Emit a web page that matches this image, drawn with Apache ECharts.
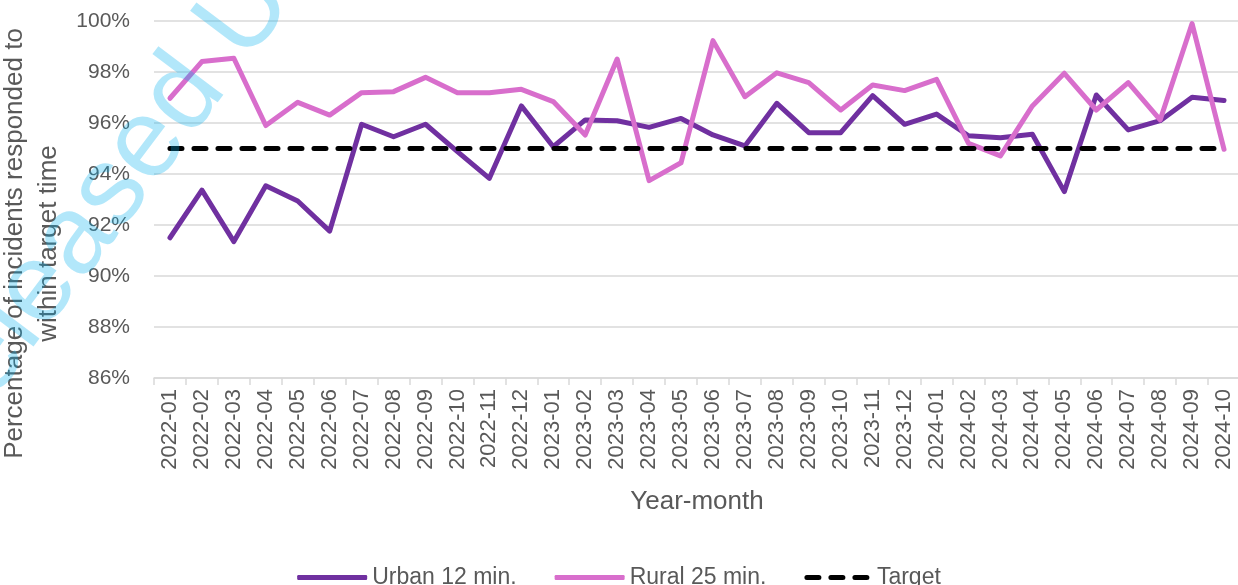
<!DOCTYPE html>
<html>
<head>
<meta charset="utf-8">
<script src="https://cdn.jsdelivr.net/npm/echarts@6/dist/echarts.min.js"></script>
<style>html,body{margin:0;padding:0;background:#fff}#c{width:1238px;height:585px}</style>
</head>
<body>
<div id="c"></div>
<script>
const categories = ['2022-01','2022-02','2022-03','2022-04','2022-05','2022-06','2022-07','2022-08','2022-09','2022-10','2022-11','2022-12',
  '2023-01','2023-02','2023-03','2023-04','2023-05','2023-06','2023-07','2023-08','2023-09','2023-10','2023-11','2023-12',
  '2024-01','2024-02','2024-03','2024-04','2024-05','2024-06','2024-07','2024-08','2024-09','2024-10'];
const urban = [91.50,93.37,91.35,93.54,92.94,91.76,95.95,95.46,95.95,94.88,93.83,96.67,
  95.07,96.12,96.09,95.83,96.18,95.53,95.10,96.77,95.62,95.62,97.07,95.95,
  96.35,95.50,95.42,95.56,93.31,97.10,95.73,96.09,97.01,96.88];
const rural = [96.97,98.41,98.54,95.90,96.81,96.31,97.19,97.23,97.79,97.19,97.19,97.32,
  96.84,95.53,98.51,93.74,94.44,99.23,97.03,97.97,97.58,96.51,97.49,97.27,
  97.71,95.20,94.71,96.67,97.95,96.51,97.58,96.12,99.90,94.97];
const target = [95,95,95,95,95,95,95,95,95,95,95,95,95,95,95,95,95,95,95,95,95,95,95,95,95,95,95,95,95,95,95,95,95,95];
const yTicks = {min: 86, max: 100, interval: 2};

const FONT = 'Liberation Sans';
const GREY = '#595959';
const chart = echarts.init(document.getElementById('c'), null, {renderer: 'canvas'});
chart.setOption({
  animation: false,
  textStyle: {fontFamily: FONT},
  grid: {left: 154, right: -2, top: 21, bottom: 207, containLabel: false, outerBoundsMode: 'none'},
  xAxis: {
    type: 'category',
    data: categories,
    boundaryGap: true,
    name: 'Year-month',
    nameLocation: 'middle',
    nameGap: 111,
    nameTextStyle: {color: GREY, fontSize: 26, fontFamily: FONT},
    axisLine: {lineStyle: {color: '#d9d9d9', width: 1.5}},
    axisTick: {show: true, length: 7, lineStyle: {color: '#d9d9d9', width: 1.5}, alignWithLabel: false},
    axisLabel: {rotate: 90, color: GREY, fontSize: 22, fontFamily: FONT, margin: 11, interval: 0}
  },
  yAxis: {
    type: 'value',
    min: yTicks.min, max: yTicks.max, interval: yTicks.interval,
    name: 'Percentage of incidents responded to\nwithin target time',
    nameLocation: 'middle',
    nameRotate: 90,
    nameGap: 74,
    nameTextStyle: {color: GREY, fontSize: 26, fontFamily: FONT, lineHeight: 34, padding: [0, 88, 0, 0]},
    axisLine: {show: false},
    axisTick: {show: false},
    splitLine: {lineStyle: {color: '#d9d9d9', width: 1.5}},
    axisLabel: {formatter: '{value}%', color: GREY, fontSize: 21, fontFamily: FONT, margin: 24}
  },
  legend: {
    top: 561,
    left: 'center',
    itemWidth: 70,
    itemHeight: 5,
    itemGap: 38,
    textStyle: {color: GREY, fontSize: 23, fontFamily: FONT},
    data: [
      {name: 'Urban 12 min.', icon: 'roundRect'},
      {name: 'Rural 25 min.', icon: 'roundRect'},
      {name: 'Target', icon: 'path://M2,0h12a2,2 0 0 1 0,5h-12a2,2 0 0 1 0,-5z M26,0h12a2,2 0 0 1 0,5h-12a2,2 0 0 1 0,-5z M50,0h12a2,2 0 0 1 0,5h-12a2,2 0 0 1 0,-5z'}
    ]
  },
  series: [
    {name: 'Urban 12 min.', type: 'line', data: urban, symbol: 'none', lineStyle: {color: '#7030A0', width: 5, cap: 'round', join: 'round'}, itemStyle: {color: '#7030A0'}, z: 2},
    {name: 'Rural 25 min.', type: 'line', data: rural, symbol: 'none', lineStyle: {color: '#D86ECC', width: 5, cap: 'round', join: 'round'}, itemStyle: {color: '#D86ECC'}, z: 3},
    {name: 'Target', type: 'line', data: target, symbol: 'none', lineStyle: {color: '#000000', width: 5, type: [12, 12], cap: 'round'}, itemStyle: {color: '#000000'}, z: 4}
  ],
  graphic: [{
    type: 'text', x: -37, y: 482, rotation: 0.925, z: 100, silent: true,
    style: {text: 'Released Under', fontSize: 112, fontFamily: FONT, fill: 'rgba(0,176,240,0.3)', align: 'left', verticalAlign: 'bottom'}
  }]
});
</script>
</body>
</html>
